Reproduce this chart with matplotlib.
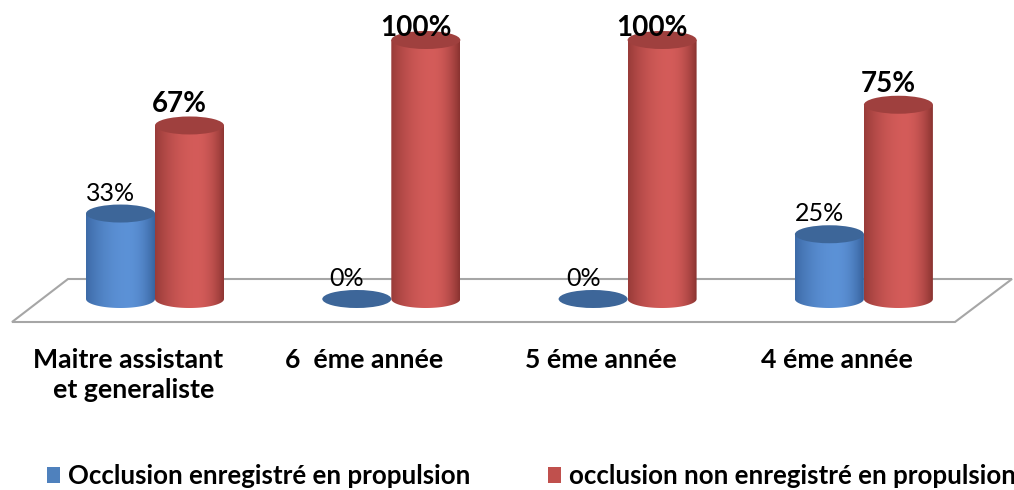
import numpy as np
import matplotlib
matplotlib.use("Agg")
import matplotlib.pyplot as plt
from matplotlib.patches import Ellipse, PathPatch, Polygon, Patch
from matplotlib.path import Path

# ---- data -------------------------------------------------------------
categories = ["Maitre assistant\net generaliste", "6  éme année", "5 éme année", "4 éme année"]
series_names = ["Occlusion enregistré en propulsion",
                "occlusion non enregistré en propulsion"]
enregistre = [33, 0, 0, 25]
non_enregistre = [67, 100, 100, 75]
value_labels_enr = ["33%", "0%", "0%", "25%"]
value_labels_non = ["67%", "100%", "100%", "75%"]

# ---- style ------------------------------------------------------------
plt.rcParams["font.family"] = ["Lato", "DejaVu Sans"]

W, H, DPI = 1014, 490, 100
fig = plt.figure(figsize=(W / DPI, H / DPI), dpi=DPI)
ax = fig.add_axes([0, 0, 1, 1])
ax.set_axis_off()

# scale: one category step and one percent in pixels
PX_CAT = 236.3
PX_PCT = 2.59
X0_PX = 155.0     # pixel of first category centre
Y0_PX = 299.0     # pixel of the zero line

def px_x(p):
    return (p - X0_PX) / PX_CAT

def px_y(p):
    return (Y0_PX - p) / PX_PCT

cyl_w = 69 / PX_CAT          # cylinder width, category units
ell_h = 18 / PX_PCT          # ellipse height, percent units

blue_light = np.array([0.36, 0.57, 0.84])
blue_dark = np.array([0.21, 0.38, 0.61])
blue_top = "#3d6699"
red_light = np.array([0.83, 0.36, 0.35])
red_dark = np.array([0.54, 0.20, 0.19])
red_top = "#9f403e"

def shade(light, dark, n=120):
    t = np.linspace(0, 1, n)
    peak = 0.6
    s = np.where(t < peak, 1 - ((peak - t) / peak) ** 2 * 0.8,
                 1 - ((t - peak) / (1 - peak)) ** 2)
    s = np.clip(s, 0, 1)
    cols = dark[None, :] + s[:, None] * (light - dark)[None, :]
    return cols[None, :, :]

def cylinder(cx, value, light, dark, top_color, z):
    hw = cyl_w / 2
    hh = ell_h / 2
    if value > 0:
        th = np.linspace(0, np.pi, 60)
        bottom = np.column_stack([cx - hw * np.cos(th), -hh * np.sin(th)])
        verts = np.vstack([[cx - hw, value], bottom, [cx + hw, value], [cx - hw, value]])
        path = Path(verts, closed=True)
        clip = PathPatch(path, facecolor="none", edgecolor="none",
                         transform=ax.transData, zorder=z)
        ax.add_patch(clip)
        im = ax.imshow(shade(light, dark), extent=(cx - hw, cx + hw, -hh, value),
                       aspect="auto", interpolation="bilinear", zorder=z)
        im.set_clip_path(clip)
    ax.add_patch(Ellipse((cx, value), cyl_w, ell_h, facecolor=top_color,
                         edgecolor="none", zorder=z + 0.5))

# floor (parallelogram)
floor = Polygon([(px_x(68), px_y(279)), (px_x(1012), px_y(279)),
                 (px_x(955), px_y(322)), (px_x(12), px_y(322))],
                closed=True, facecolor="none", edgecolor="#a6a6a6",
                linewidth=1.5, zorder=1)
ax.add_patch(floor)

label_dx = -10 / PX_CAT
label_gap = ell_h / 2 + 4 / PX_PCT
label_max = px_y(36)

z = 2
for i in range(len(categories)):
    xb = i - cyl_w / 2
    xr = i + cyl_w / 2
    cylinder(xb, enregistre[i], blue_light, blue_dark, blue_top, z)
    cylinder(xr, non_enregistre[i], red_light, red_dark, red_top, z + 1)
    z += 2
    ax.text(xb + label_dx, min(enregistre[i] + label_gap, label_max),
            value_labels_enr[i], ha="center", va="baseline",
            fontsize=18, color="black", zorder=20)
    ax.text(xr + label_dx, min(non_enregistre[i] + label_gap, label_max),
            value_labels_non[i], ha="center", va="baseline",
            fontsize=20, fontweight="bold", color="black", zorder=20)

# category labels below the floor
cat_dx = -27 / PX_CAT
for i, name in enumerate(categories):
    lines = name.split("\n")
    ax.text(i + cat_dx, px_y(368), lines[0], ha="center", va="baseline",
            fontsize=19.2, fontweight="bold", zorder=20)
    if len(lines) > 1:
        ax.text(i + cat_dx + 6 / PX_CAT, px_y(398), lines[1], ha="center",
                va="baseline", fontsize=19.2, fontweight="bold", zorder=20)

ax.set_xlim(px_x(0), px_x(W))
ax.set_ylim(px_y(H), px_y(0))

handles = [Patch(facecolor="#4f81bd"), Patch(facecolor="#c0504d")]
ax.legend(handles, series_names, loc="center left",
          bbox_to_anchor=(47 / W, 1 - 476 / H), ncol=2, frameon=False,
          prop={"weight": "bold", "size": 18.6}, handlelength=0.5,
          handleheight=0.62, handletextpad=0.31, columnspacing=3.0,
          borderpad=0, borderaxespad=0)

fig.savefig("out.png", dpi=DPI)
